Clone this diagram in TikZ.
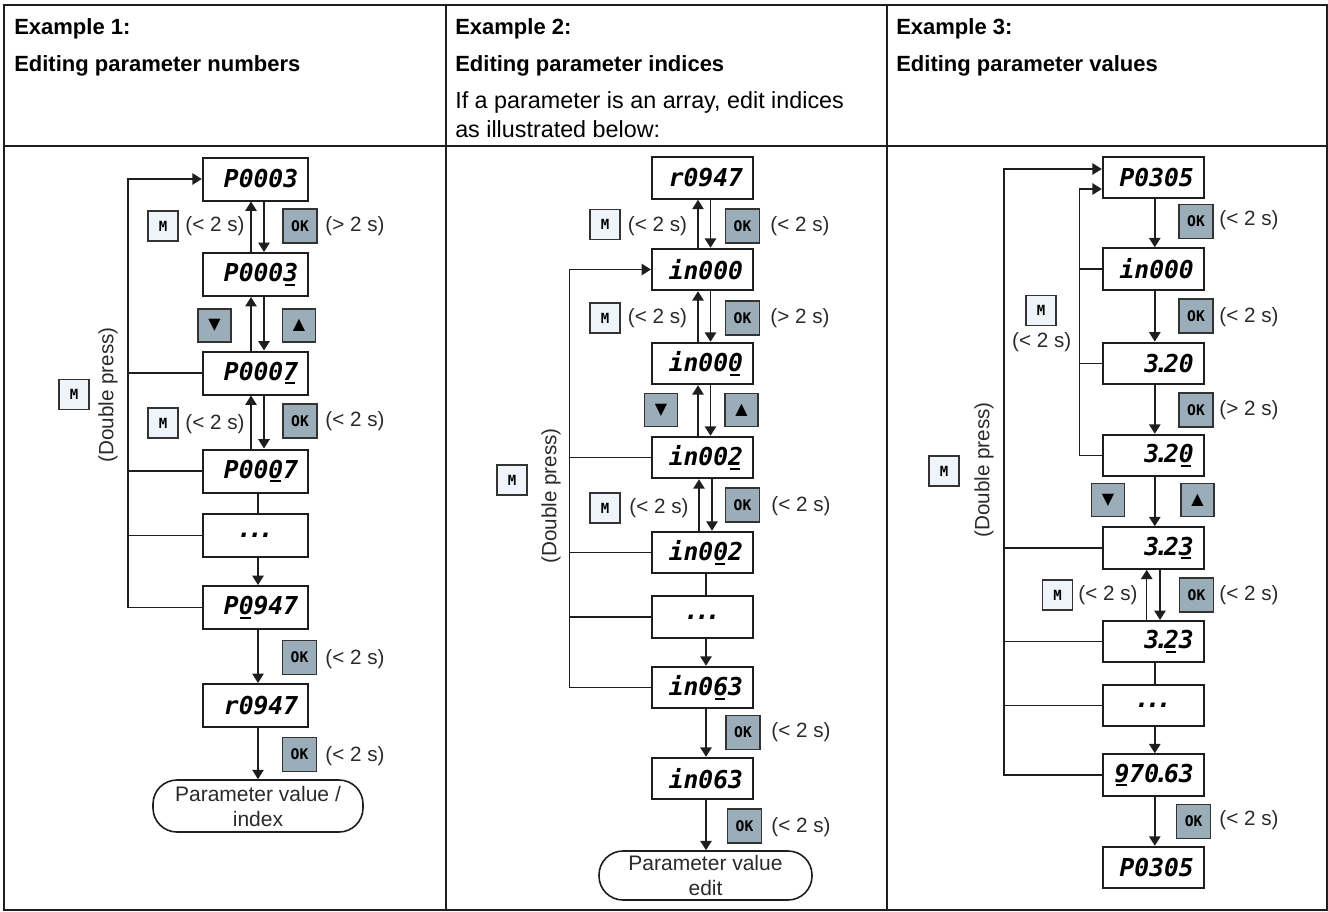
\documentclass[tikz,border=0pt]{standalone}
\usepackage{fontspec}
\setmainfont{Liberation Sans}
\newfontfamily\segfont{DejaVu Sans Mono Bold Oblique}
\newfontfamily\btnfont{DejaVu Sans Mono Bold}
\newfontfamily\symfont{DejaVu Sans}
\usetikzlibrary{arrows.meta}
\newcommand\pxu{0.75pt}
\newcommand\ud[1]{\rlap{\kern.07em\rule[-.17em]{.42em}{.08em}}#1}
\newcommand\dpt{\kern-.2em.\kern-.2em}
\newcommand\ddd{.\kern-.16em.\kern-.16em.}
\definecolor{okc}{HTML}{9AADB8}
\definecolor{mc}{HTML}{EEF4F9}
\definecolor{lc}{HTML}{1E1E1E}
\definecolor{bc}{HTML}{333333}
\definecolor{tc}{HTML}{2A2A2A}
\tikzset{
  every node/.style={inner sep=0pt},
  disp/.style={draw=lc, line width=1.5pt, minimum height=41.5*\pxu, align=right,
     font=\segfont\fontsize{18.5}{18.5}\selectfont},
  dA/.style={disp, minimum width=105.5*\pxu, minimum height=43*\pxu, text width=64pt},
  dB/.style={disp, minimum width=101*\pxu, text width=60.75pt},
  dots/.style={align=center},
  ovl/.style={draw=lc, line width=1.2pt, rounded corners=24*\pxu, align=center,
     font=\fontsize{15.75}{18.75}\selectfont, text=tc},
  mb/.style={draw=bc, line width=0.9pt, fill=mc, minimum size=30*\pxu,
     font=\btnfont\fontsize{10.5}{10.5}\selectfont},
  okb/.style={draw=bc, line width=0.9pt, fill=okc, minimum size=34*\pxu,
     font=\btnfont\fontsize{11}{11}\selectfont},
  arb/.style={draw=bc, line width=0.9pt, fill=okc, minimum size=33*\pxu,
     font=\symfont\fontsize{12}{12}\selectfont},
  lbl/.style={font=\fontsize{15.5}{15.5}\selectfont, text=tc},
  hd/.style={anchor=base west, font=\fontsize{16.5}{16.5}\selectfont\bfseries},
  rg/.style={anchor=base west, font=\fontsize{17.5}{17.5}\selectfont},
  arr/.style={-{Triangle[length=7pt,width=8.5pt]}, line width=1.1pt, draw=lc},
  ln/.style={line width=1.1pt, draw=lc},
  tbl/.style={line width=1.5pt, draw=lc}
}
\begin{document}
\begin{tikzpicture}[x=0.75pt,y=-0.75pt]
\useasboundingbox (0,0) rectangle (1328,911);
% table
\draw[tbl] (4,5) rectangle (1326.5,909.5);
\draw[tbl] (446,5) -- (446,909.5);
\draw[tbl] (887,5) -- (887,909.5);
\draw[tbl] (4,146) -- (1326.5,146);
% headers
\node[hd] (h1a) at (14,34) {Example 1:};
\node[hd] (h1b) at (14,71) {Editing parameter numbers};
\node[hd] (h2a) at (455,34) {Example 2:};
\node[hd] (h2b) at (455,71) {Editing parameter indices};
\node[rg] (h2c) at (455,108) {If a parameter is an array, edit indices};
\node[rg] (h2d) at (455,137) {as illustrated below:};
\node[hd] (h3a) at (896,34) {Example 3:};
\node[hd] (h3b) at (896,71) {Editing parameter values};

% ===== column 1 =====
\node[dA] (c1a) at (255.5,179) {P0003};
\node[dA] (c1b) at (255.5,274.5) {P000\ud{3}};
\node[dA] (c1c) at (255.5,373) {P000\ud{7}};
\node[dA] (c1d) at (255.5,471) {P00\ud{0}7};
\node[dA, dots] (c1e) at (255.5,535.5) {\ddd};
\node[dA] (c1f) at (255.5,607.5) {P\ud{0}947};
\node[dA] (c1g) at (255.5,705.5) {r0947};
\node[ovl, minimum width=210*\pxu, minimum height=52*\pxu] (c1h) at (258,806) {Parameter value /\\index};

\draw[arr] ([xshift=-4.5*\pxu]c1b.north) -- ([xshift=-4.5*\pxu]c1a.south);
\draw[arr] ([xshift=8.5*\pxu]c1a.south) -- ([xshift=8.5*\pxu]c1b.north);
\draw[arr] ([xshift=-4.5*\pxu]c1c.north) -- ([xshift=-4.5*\pxu]c1b.south);
\draw[arr] ([xshift=8.5*\pxu]c1b.south) -- ([xshift=8.5*\pxu]c1c.north);
\draw[arr] ([xshift=-4.5*\pxu]c1d.north) -- ([xshift=-4.5*\pxu]c1c.south);
\draw[arr] ([xshift=8.5*\pxu]c1c.south) -- ([xshift=8.5*\pxu]c1d.north);
\draw[ln] ([xshift=2.5*\pxu]c1d.south) -- ([xshift=2.5*\pxu]c1e.north);
\draw[arr] ([xshift=2.5*\pxu]c1e.south) -- ([xshift=2.5*\pxu]c1f.north);
\draw[arr] ([xshift=2.5*\pxu]c1f.south) -- ([xshift=2.5*\pxu]c1g.north);
\draw[arr] ([xshift=2.5*\pxu]c1g.south) -- (c1h.north);

\coordinate (L1) at (128,179);
\draw[arr] (c1f.west) -- (c1f.west -| L1) -- (L1) -- (c1a.west);
\draw[ln] (c1c.west) -- (c1c.west -| L1);
\draw[ln] (c1d.west) -- (c1d.west -| L1);
\draw[ln] (c1e.west) -- (c1e.west -| L1);

\node[mb] (m1a) at (163,226) {M};
\node[lbl] (t1a) at (215,226) {(< 2 s)};
\node[okb] (k1a) at (300,226) {OK};
\node[lbl] (t1b) at (355,226) {(> 2 s)};
\node[arb] (dn1) at (214.5,325.5) {▼};
\node[arb] (up1) at (299,325.5) {▲};
\node[mb] (m1b) at (163,423) {M};
\node[lbl] (t1c) at (215,424) {(< 2 s)};
\node[okb] (k1b) at (300,421) {OK};
\node[lbl] (t1d) at (355,421) {(< 2 s)};
\node[okb] (k1c) at (299.5,657.5) {OK};
\node[lbl] (t1e) at (355,659) {(< 2 s)};
\node[okb] (k1d) at (299.5,754.5) {OK};
\node[lbl] (t1f) at (355,756) {(< 2 s)};
\node[mb] (mD1) at (74,394.5) {M};
\node[lbl, rotate=90] (dp1) at (108,395) {(Double press)};

% ===== column 2 =====
\node[dB] (c2a) at (702.5,178) {r0947};
\node[dB] (c2b) at (702.5,269.5) {in000};
\node[dB] (c2c) at (702.5,363.5) {in00\ud{0}};
\node[dB] (c2d) at (702.5,457.5) {in00\ud{2}};
\node[dB] (c2e) at (702.5,552.5) {in0\ud{0}2};
\node[dB, dots] (c2f) at (702.5,617) {\ddd};
\node[dB] (c2g) at (702.5,687.5) {in0\ud{6}3};
\node[dB] (c2h) at (702.5,778.5) {in063};
\node[ovl, minimum width=213*\pxu, minimum height=49*\pxu] (c2i) at (705.5,875.5) {Parameter value\\edit};

\draw[arr] ([xshift=-4.5*\pxu]c2b.north) -- ([xshift=-4.5*\pxu]c2a.south);
\draw[arr] ([xshift=8*\pxu]c2a.south) -- ([xshift=8*\pxu]c2b.north);
\draw[arr] ([xshift=-4.5*\pxu]c2c.north) -- ([xshift=-4.5*\pxu]c2b.south);
\draw[arr] ([xshift=8*\pxu]c2b.south) -- ([xshift=8*\pxu]c2c.north);
\draw[arr] ([xshift=-4.5*\pxu]c2d.north) -- ([xshift=-4.5*\pxu]c2c.south);
\draw[arr] ([xshift=8*\pxu]c2c.south) -- ([xshift=8*\pxu]c2d.north);
\draw[arr] ([xshift=-3.5*\pxu]c2e.north) -- ([xshift=-3.5*\pxu]c2d.south);
\draw[arr] ([xshift=9.5*\pxu]c2d.south) -- ([xshift=9.5*\pxu]c2e.north);
\draw[ln] ([xshift=3.5*\pxu]c2e.south) -- ([xshift=3.5*\pxu]c2f.north);
\draw[arr] ([xshift=3.5*\pxu]c2f.south) -- ([xshift=3.5*\pxu]c2g.north);
\draw[arr] ([xshift=3.5*\pxu]c2g.south) -- ([xshift=3.5*\pxu]c2h.north);
\draw[arr] ([xshift=3.5*\pxu]c2h.south) -- ([xshift=0.5*\pxu]c2i.north);

\coordinate (L2) at (569.5,269.5);
\draw[arr] (c2g.west) -- (c2g.west -| L2) -- (L2) -- (c2b.west);
\draw[ln] (c2d.west) -- (c2d.west -| L2);
\draw[ln] (c2e.west) -- (c2e.west -| L2);
\draw[ln] (c2f.west) -- (c2f.west -| L2);

\node[mb] (m2a) at (605,224.5) {M};
\node[lbl] (t2a) at (657.5,226) {(< 2 s)};
\node[okb] (k2a) at (742.5,226) {OK};
\node[lbl] (t2b) at (800,226) {(< 2 s)};
\node[mb] (m2b) at (605,318) {M};
\node[lbl] (t2c) at (657.5,318) {(< 2 s)};
\node[okb] (k2b) at (742.5,318) {OK};
\node[lbl] (t2d) at (800,318) {(> 2 s)};
\node[arb] (dn2) at (661,410) {▼};
\node[arb] (up2) at (741.5,410) {▲};
\node[mb] (m2c) at (605,508) {M};
\node[lbl] (t2e) at (659,508) {(< 2 s)};
\node[okb] (k2c) at (742.5,505) {OK};
\node[lbl] (t2f) at (801,506) {(< 2 s)};
\node[okb] (k2d) at (743,732.5) {OK};
\node[lbl] (t2g) at (801,732) {(< 2 s)};
\node[okb] (k2e) at (744.5,826) {OK};
\node[lbl] (t2h) at (801,827) {(< 2 s)};
\node[mb] (mD2) at (512,480) {M};
\node[lbl, rotate=90] (dp2) at (551,496) {(Double press)};

% ===== column 3 =====
\node[dB] (c3a) at (1153.3,177.5) {P0305};
\node[dB] (c3b) at (1153.3,269) {in000};
\node[dB] (c3c) at (1153.3,363.3) {3\dpt20};
\node[dB] (c3d) at (1153.3,455.5) {3\dpt2\ud{0}};
\node[dB] (c3e) at (1153.3,548) {3\dpt2\ud{3}};
\node[dB] (c3f) at (1153.3,641.7) {3\dpt\ud{2}3};
\node[dB, dots] (c3g) at (1153.3,705.5) {\ddd};
\node[dB] (c3h) at (1153.3,775) {\ud{9}70\dpt63};
\node[dB] (c3i) at (1153.3,867.5) {P0305};

\draw[arr] ([xshift=1.5*\pxu]c3a.south) -- ([xshift=1.5*\pxu]c3b.north);
\draw[arr] ([xshift=1.5*\pxu]c3b.south) -- ([xshift=1.5*\pxu]c3c.north);
\draw[arr] ([xshift=1.5*\pxu]c3c.south) -- ([xshift=1.5*\pxu]c3d.north);
\draw[arr] ([xshift=1.5*\pxu]c3d.south) -- ([xshift=1.5*\pxu]c3e.north);
\draw[arr] ([xshift=-6.6*\pxu]c3f.north) -- ([xshift=-6.6*\pxu]c3e.south);
\draw[arr] ([xshift=6.7*\pxu]c3e.south) -- ([xshift=6.7*\pxu]c3f.north);
\draw[ln] ([xshift=1.5*\pxu]c3f.south) -- ([xshift=1.5*\pxu]c3g.north);
\draw[arr] ([xshift=1.5*\pxu]c3g.south) -- ([xshift=1.5*\pxu]c3h.north);
\draw[arr] ([xshift=1.5*\pxu]c3h.south) -- ([xshift=1.5*\pxu]c3i.north);

\coordinate (LO) at (1004,169);
\coordinate (LI) at (1079.3,189);
\draw[arr] (c3h.west) -- (c3h.west -| LO) -- (LO) -- ([yshift=8.5*\pxu]c3a.west);
\draw[ln] (c3e.west) -- (c3e.west -| LO);
\draw[ln] (c3f.west) -- (c3f.west -| LO);
\draw[ln] (c3g.west) -- (c3g.west -| LO);
\draw[arr] (c3d.west) -- (c3d.west -| LI) -- (LI) -- ([yshift=-11.5*\pxu]c3a.west);
\draw[ln] (c3b.west) -- (c3b.west -| LI);
\draw[ln] (c3c.west) -- (c3c.west -| LI);

\node[okb] (k3a) at (1196,221.5) {OK};
\node[lbl] (t3a) at (1249,220) {(< 2 s)};
\node[mb] (m3a) at (1041,310.5) {M};
\node[lbl] (t3b) at (1041.7,341.7) {(< 2 s)};
\node[okb] (k3b) at (1196,316) {OK};
\node[lbl] (t3c) at (1249,317) {(< 2 s)};
\node[okb] (k3c) at (1196,410) {OK};
\node[lbl] (t3d) at (1249,410) {(> 2 s)};
\node[arb] (dn3) at (1108,500) {▼};
\node[arb] (up3) at (1197.5,500) {▲};
\node[mb] (m3b) at (1057.7,595) {M};
\node[lbl] (t3e) at (1108,595) {(< 2 s)};
\node[okb] (k3d) at (1196.5,595) {OK};
\node[lbl] (t3f) at (1249,595) {(< 2 s)};
\node[okb] (k3e) at (1193.7,821.5) {OK};
\node[lbl] (t3g) at (1249,820) {(< 2 s)};
\node[mb] (mD3) at (944,471) {M};
\node[lbl, rotate=90] (dp3) at (984,470) {(Double press)};
\end{tikzpicture}
\end{document}
